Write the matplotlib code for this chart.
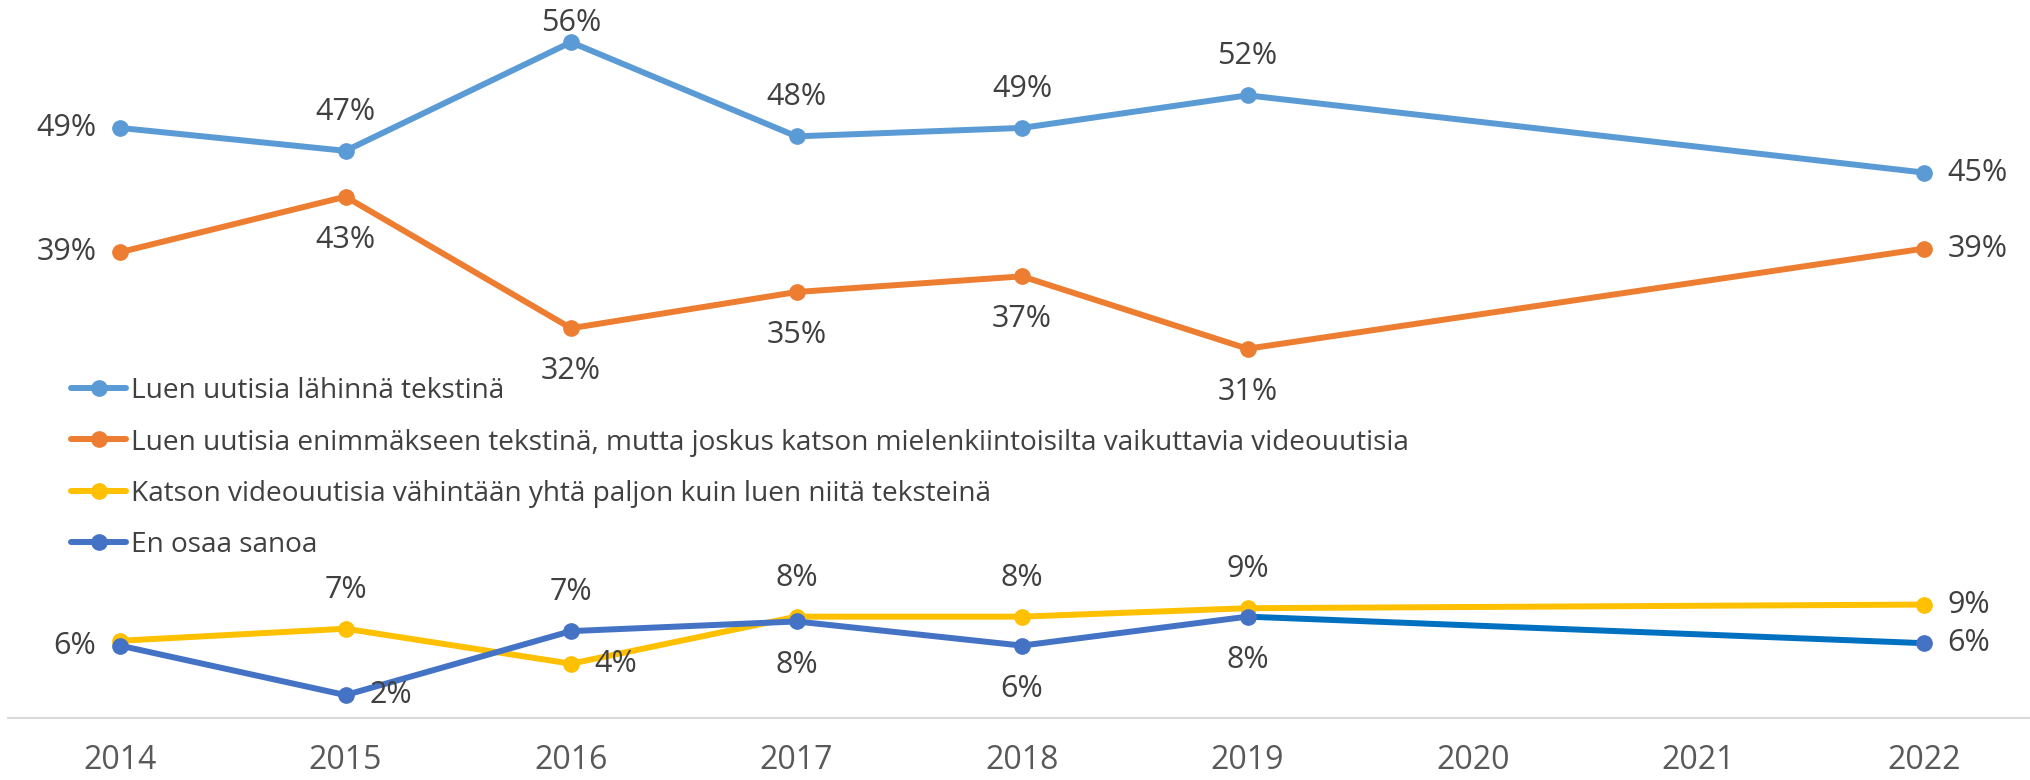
import numpy as np
import matplotlib
matplotlib.use("Agg")
import matplotlib.pyplot as plt
from matplotlib.lines import Line2D

plt.rcParams['font.family'] = ['Open Sans', 'DejaVu Sans']

years = ['2014', '2015', '2016', '2017', '2018', '2019', '2020', '2021', '2022']
# no survey in 2020 and 2021, lines run straight from 2019 to 2022
measured = [0, 1, 2, 3, 4, 5, 8]

names = [
    'Luen uutisia lähinnä tekstinä',
    'Luen uutisia enimmäkseen tekstinä, mutta joskus katson mielenkiintoisilta vaikuttavia videouutisia',
    'Katson videouutisia vähintään yhtä paljon kuin luen niitä teksteinä',
    'En osaa sanoa',
]
text_only = [48.9, 47.0, 56.0, 48.2, 48.9, 51.6, 45.2]
mostly_text = [38.6, 43.2, 32.3, 35.3, 36.6, 30.6, 38.9]
video_equal = [6.4, 7.4, 4.5, 8.4, 8.4, 9.1, 9.4]
dont_know = [6.0, 1.9, 7.2, 8.0, 6.0, 8.4, 6.2]

colors = ['#5B9BD5', '#ED7D31', '#FFC000', '#4472C4']
last_segment = '#0070C0'

# where each value label sits relative to its point
# (2014 of the third series shares its label spot with the fourth one)
pos_text_only = ['left', 'up', 'top', 'up', 'up', 'up', 'right']
pos_mostly_text = ['left', 'down', 'down', 'down', 'down', 'down', 'right']
pos_video_equal = [None, 'up', 'right', 'up', 'up', 'up', 'right']
pos_dont_know = ['left', 'right', 'up', 'down', 'down', 'down', 'right']

LW = 4.3
MS = 11

fig = plt.figure(figsize=(20.3, 7.8), dpi=100)
ax = fig.add_axes([8 / 2030, 62 / 780, 2022 / 2030, 718 / 780])

series = [text_only, mostly_text, video_equal, dont_know]
positions = [pos_text_only, pos_mostly_text, pos_video_equal, pos_dont_know]
for i, vals in enumerate(series):
    if i == 3:
        # the 2019-2022 stretch of the last series has its own shade
        ax.plot(measured[-2:], vals[-2:], color=last_segment, lw=LW,
                solid_capstyle='round', zorder=3)
        ax.plot(measured[:-1], vals[:-1], color=colors[i], lw=LW,
                marker='o', ms=MS, solid_capstyle='round', zorder=3)
        ax.plot(measured[-1:], vals[-1:], ls='none', marker='o', ms=MS,
                color=colors[i], zorder=4)
    else:
        ax.plot(measured, vals, color=colors[i], lw=LW, marker='o',
                ms=MS, solid_capstyle='round', zorder=3)

offsets = {'up': ((0, 28), 'center', 'center'),
           'top': ((0, 14), 'center', 'center'),
           'down': ((0, -31), 'center', 'center'),
           'left': ((-17, 0), 'right', 'center'),
           'right': ((17, 0), 'left', 'center')}
for vals, pos in zip(series, positions):
    for x, v, p in zip(measured, vals, pos):
        if p is None:
            continue
        off, ha, va = offsets[p]
        ax.annotate(f'{v:.0f}%', (x, v), xytext=off, textcoords='offset points',
                    ha=ha, va=va, fontsize=22, color='#404040', zorder=5)

ax.set_xlim((8 - 120) / 225.5, (2030 - 120) / 225.5)
ax.set_ylim(0, 59.5)
ax.set_xticks(range(len(years)))
ax.set_xticklabels(years, fontsize=23, color='#595959')
ax.tick_params(axis='x', length=0, pad=19)
ax.set_yticks([])
for s in ['top', 'right', 'left']:
    ax.spines[s].set_visible(False)
ax.spines['bottom'].set_color('#D9D9D9')
ax.spines['bottom'].set_linewidth(1.5)

# legend drawn row by row so the rows stay evenly spaced
for i, (name, c) in enumerate(zip(names, colors)):
    y = 1 - (388 + 51.3 * i) / 780
    fig.add_artist(Line2D([71 / 2030, 126 / 2030], [y, y], color=c, lw=LW,
                          solid_capstyle='round', transform=fig.transFigure))
    fig.add_artist(Line2D([98.5 / 2030], [y], color=c, marker='o', ms=MS,
                          transform=fig.transFigure))
    fig.text(131 / 2030, y, name, fontsize=20.2, color='#404040',
             ha='left', va='center_baseline')

fig.savefig('out.png', dpi=100)
